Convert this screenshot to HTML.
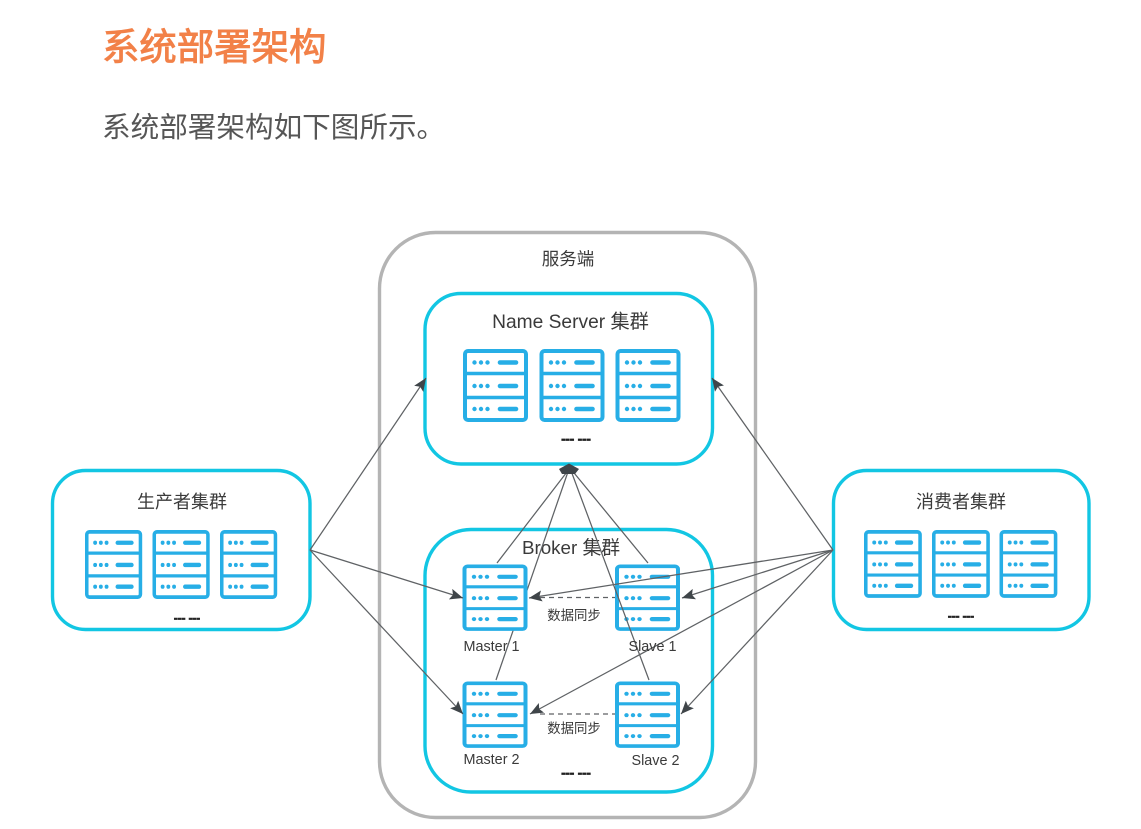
<!DOCTYPE html>
<html><head><meta charset="utf-8"><style>
html,body{margin:0;padding:0;background:#fff;width:1141px;height:829px;overflow:hidden}
svg{display:block}
text{font-family:"Liberation Sans","Noto Sans CJK SC",sans-serif;fill:#3a3a3a}
.c{text-anchor:middle}
.box{fill:#fff;stroke:#12c6e3;stroke-width:3.4}
.ln{stroke:#5f6265;stroke-width:1.25;fill:none}
.ar{fill:#3f4549}
.dots{font-weight:bold;font-size:13px;fill:#222;stroke:#222;stroke-width:.7}
#d{filter:blur(.35px)}
</style></head><body>
<svg width="1141" height="829" viewBox="0 0 1141 829" xmlns="http://www.w3.org/2000/svg">
<defs>
<g id="srv">
<rect x="2" y="2" width="61" height="69" rx="3" fill="#fff" stroke="#27aee6" stroke-width="4"/>
<path d="M2 24.5H63M2 48.5H63" stroke="#27aee6" stroke-width="3.4"/>
<g fill="#27aee6">
<circle cx="11.5" cy="13.5" r="2.2"/><circle cx="18" cy="13.5" r="2.2"/><circle cx="24.5" cy="13.5" r="2.2"/>
<circle cx="11.5" cy="37" r="2.2"/><circle cx="18" cy="37" r="2.2"/><circle cx="24.5" cy="37" r="2.2"/>
<circle cx="11.5" cy="60" r="2.2"/><circle cx="18" cy="60" r="2.2"/><circle cx="24.5" cy="60" r="2.2"/>
</g>
<path d="M37 13.5H53M37 37H53M37 60H53" stroke="#27aee6" stroke-width="4.6" stroke-linecap="round"/>
</g>
<marker id="a" markerUnits="userSpaceOnUse" markerWidth="14" markerHeight="12" refX="13" refY="6" orient="auto">
<path d="M0 0.5L13 6L0 11.5L2.5 6Z" fill="#3f4549"/>
</marker>
</defs>

<text x="102" y="60" font-size="37.4" style="fill:#f28148;stroke:#f28148;stroke-width:.9">系统部署架构</text>
<text x="102" y="137" font-size="28.6" style="fill:#565656">系统部署架构如下图所示。</text>

<g id="d">
<rect x="379.5" y="232.5" width="376" height="585" rx="56" fill="#fff" stroke="#b4b4b4" stroke-width="3.4"/>
<rect class="box" x="425" y="293.5" width="287.5" height="170.5" rx="36"/>
<rect class="box" x="425" y="529.5" width="287.5" height="262.5" rx="46"/>
<rect class="box" x="52.5" y="470.5" width="257.5" height="159" rx="33"/>
<rect class="box" x="833.5" y="470.5" width="255.5" height="159" rx="33"/>

<text class="c" x="568" y="265" font-size="17.5">服务端</text>
<text class="c" x="570.5" y="328" font-size="19.2">Name Server 集群</text>
<text class="c" x="571" y="554" font-size="18.8">Broker 集群</text>
<text class="c" x="182" y="508" font-size="18">生产者集群</text>
<text class="c" x="961" y="508" font-size="18">消费者集群</text>

<use href="#srv" transform="translate(463,349)"/>
<use href="#srv" transform="translate(539.5,349)"/>
<use href="#srv" transform="translate(615.5,349)"/>

<use href="#srv" transform="translate(85,530) scale(.88,.945)"/>
<use href="#srv" transform="translate(152.5,530) scale(.88,.945)"/>
<use href="#srv" transform="translate(220,530) scale(.88,.945)"/>

<use href="#srv" transform="translate(864,530) scale(.89,.93)"/>
<use href="#srv" transform="translate(932,530) scale(.89,.93)"/>
<use href="#srv" transform="translate(999.5,530) scale(.89,.93)"/>

<path class="ln" d="M496 680L570 466"/>

<use href="#srv" transform="translate(462.5,564.5) scale(1,.91)"/>
<use href="#srv" transform="translate(615,564.5) scale(1,.91)"/>
<use href="#srv" transform="translate(462.5,681.5) scale(1,.91)"/>
<use href="#srv" transform="translate(615,681.5) scale(1,.91)"/>

<g class="ln">
<path d="M497 563L570 468M648 563L570 468M649 680L570 468"/>
<path d="M310 550L426 378" marker-end="url(#a)"/>
<path d="M310 550L463 598" marker-end="url(#a)"/>
<path d="M310 550L463 714" marker-end="url(#a)"/>
<path d="M833 550L712 378" marker-end="url(#a)"/>
<path d="M833 550L529 598" marker-end="url(#a)"/>
<path d="M833 550L682 598" marker-end="url(#a)"/>
<path d="M833 550L530 714" marker-end="url(#a)"/>
<path d="M833 550L681 714" marker-end="url(#a)"/>
<path d="M540 597.5H615M540 714H615" stroke-dasharray="5 4"/>
</g>
<polygon class="ar" points="569,463.5 579,469 575,474 562,474 559,469"/>

<text class="c" x="491.5" y="651" font-size="14.4">Master 1</text>
<text class="c" x="652.5" y="651" font-size="14.4">Slave 1</text>
<text class="c" x="491.5" y="764" font-size="14.4">Master 2</text>
<text class="c" x="655.5" y="765" font-size="14.4">Slave 2</text>
<text class="c" x="574" y="620" font-size="13.4">数据同步</text>
<text class="c" x="574" y="733" font-size="13.4">数据同步</text>

<text class="c dots" x="576" y="443">--- ---</text>
<text class="c dots" x="576" y="777">--- ---</text>
<text class="c dots" x="187" y="622" style="font-size:11.5px">--- ---</text>
<text class="c dots" x="961" y="620" style="font-size:11.5px">--- ---</text>
</g>
</svg>
</body></html>
